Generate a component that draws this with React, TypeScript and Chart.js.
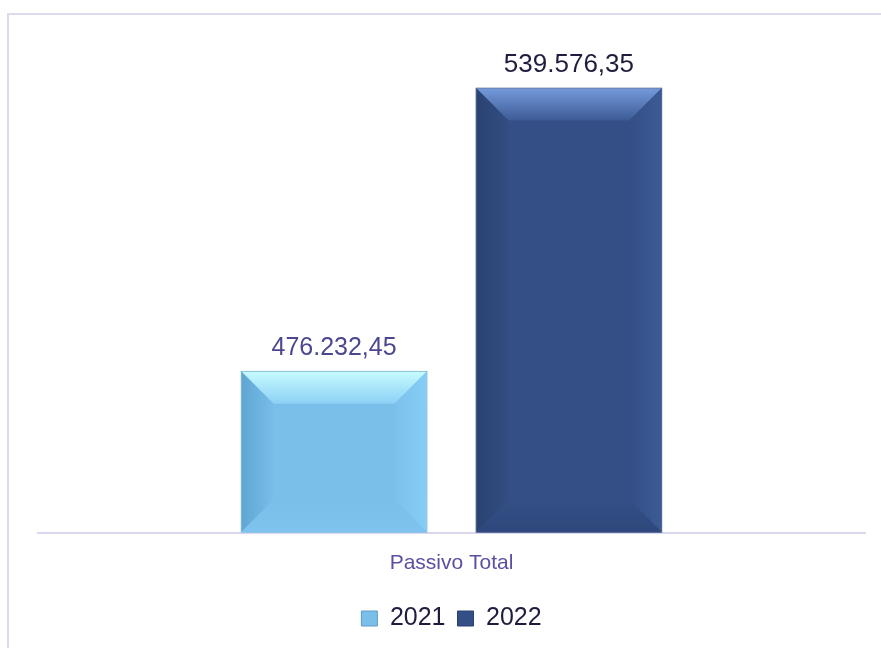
import React, { useEffect, useRef } from "react";
import { Chart, registerables } from "chart.js";

Chart.register(...registerables);

// ---- data ----
const categories = ["Passivo Total"];
const seriesNames = ["2021", "2022"];
const values2021 = [476232.45];
const values2022 = [539576.35];
const yMin = 440000;
const yMax = 550000;

// ---- styles ----
const baseColors = ["#7ABFEA", "#344F85"];
const borderColors = ["#5E9CC4", "#2A4070"];
const labelColors = ["#4B4790", "#1F1D3D"];
const labelSizes = [25, 26];
const bevels = [
  { top: ["#C6FBFF", "#8CD0F5"], left: ["#5FA6D3", "#79BEE9"], right: ["#84CDF5", "#7CC1EC"], bottom: ["#7DC3EE", "#7ABFEA"] },
  { top: ["#7499DA", "#3C5B96"], left: ["#2A4372", "#334D82"], right: ["#3B5A94", "#354F86"], bottom: ["#2E487C", "#344F85"] },
];

const FONT = "'Liberation Sans', Arial, sans-serif";

function fmt(v: number): string {
  const fixed = v.toFixed(2);
  const [intPart, dec] = fixed.split(".");
  const withDots = intPart.replace(/\B(?=(\d{3})+(?!\d))/g, ".");
  return withDots + "," + dec;
}

const bevelPlugin = {
  id: "bevel",
  afterDatasetsDraw(chart: any) {
    const ctx = chart.ctx;
    const area = chart.chartArea;
    chart.getSortedVisibleDatasetMetas().forEach((meta: any) => {
      const bv = bevels[meta.index];
      meta.data.forEach((el: any) => {
        const p = el.getProps(["x", "y", "base", "width"], true);
        const L = p.x - p.width / 2 + 1;
        const R = p.x + p.width / 2 - 1;
        const T = Math.max(Math.min(p.y, p.base), area.top) + 1;
        const B = Math.min(Math.max(p.y, p.base), area.bottom) - 1;
        const b = Math.min(32, (R - L) / 2, (B - T) / 2);
        ctx.save();
        // top
        let g = ctx.createLinearGradient(0, T, 0, T + b);
        g.addColorStop(0, bv.top[0]);
        g.addColorStop(1, bv.top[1]);
        ctx.fillStyle = g;
        ctx.beginPath();
        ctx.moveTo(L, T); ctx.lineTo(R, T); ctx.lineTo(R - b, T + b); ctx.lineTo(L + b, T + b); ctx.closePath();
        ctx.fill();
        // left
        g = ctx.createLinearGradient(L, 0, L + b, 0);
        g.addColorStop(0, bv.left[0]);
        g.addColorStop(1, bv.left[1]);
        ctx.fillStyle = g;
        ctx.beginPath();
        ctx.moveTo(L, T); ctx.lineTo(L + b, T + b); ctx.lineTo(L + b, B - b); ctx.lineTo(L, B); ctx.closePath();
        ctx.fill();
        // right
        g = ctx.createLinearGradient(R, 0, R - b, 0);
        g.addColorStop(0, bv.right[0]);
        g.addColorStop(1, bv.right[1]);
        ctx.fillStyle = g;
        ctx.beginPath();
        ctx.moveTo(R, T); ctx.lineTo(R, B); ctx.lineTo(R - b, B - b); ctx.lineTo(R - b, T + b); ctx.closePath();
        ctx.fill();
        // bottom
        g = ctx.createLinearGradient(0, B, 0, B - b);
        g.addColorStop(0, bv.bottom[0]);
        g.addColorStop(1, bv.bottom[1]);
        ctx.fillStyle = g;
        ctx.beginPath();
        ctx.moveTo(L, B); ctx.lineTo(R, B); ctx.lineTo(R - b, B - b); ctx.lineTo(L + b, B - b); ctx.closePath();
        ctx.fill();
        ctx.restore();
      });
    });
  },
};

const valueLabelPlugin = {
  id: "valueLabels",
  afterDatasetsDraw(chart: any) {
    const ctx = chart.ctx;
    chart.getSortedVisibleDatasetMetas().forEach((meta: any) => {
      const ds = chart.data.datasets[meta.index];
      meta.data.forEach((el: any, i: number) => {
        const p = el.getProps(["x", "y"], true);
        ctx.save();
        ctx.font = `${labelSizes[meta.index]}px ${FONT}`;
        ctx.fillStyle = labelColors[meta.index];
        ctx.textAlign = "center";
        ctx.textBaseline = "alphabetic";
        ctx.fillText(fmt(ds.data[i] as number), p.x, p.y - 16);
        ctx.restore();
      });
    });
  },
};

export default function App() {
  const ref = useRef<HTMLCanvasElement>(null);
  useEffect(() => {
    if (!ref.current) return;
    const chart = new Chart(ref.current, {
      type: "bar",
      data: {
        labels: categories,
        datasets: [
          {
            label: seriesNames[0],
            data: values2021,
            backgroundColor: baseColors[0],
            borderColor: borderColors[0],
            borderWidth: 1,
            borderSkipped: false,
          },
          {
            label: seriesNames[1],
            data: values2022,
            backgroundColor: baseColors[1],
            borderColor: borderColors[1],
            borderWidth: 1,
            borderSkipped: false,
          },
        ],
      },
      options: {
        responsive: false,
        animation: false,
        datasets: {
          bar: { categoryPercentage: 0.568, barPercentage: 0.796 },
        },
        layout: { padding: { left: 38, right: 16, top: 41, bottom: 7 } },
        plugins: {
          tooltip: { enabled: false },
          legend: {
            position: "bottom",
            labels: {
              font: { family: FONT, size: 25 },
              color: "#1F1D3D",
              boxWidth: 16,
              boxHeight: 15,
              padding: 12,
            },
          },
        },
        scales: {
          x: {
            grid: { display: false, drawTicks: false },
            border: { display: true, color: "#D9D7EC", width: 2 },
            ticks: {
              font: { family: FONT, size: 21 },
              color: "#5A4FA0",
              padding: 18,
            },
          },
          y: {
            display: false,
            min: yMin,
            max: yMax,
          },
        },
      },
      plugins: [bevelPlugin, valueLabelPlugin],
    });
    return () => chart.destroy();
  }, []);

  return (
    <div>
      <div
        style={{
          position: "fixed",
          left: 7,
          top: 13,
          width: 2000,
          height: 2000,
          borderTop: "2px solid #DCDAEE",
          borderLeft: "2px solid #DCDAEE",
        }}
      />
      <canvas
        ref={ref}
        width={881}
        height={648}
        style={{ position: "fixed", left: 0, top: 0, width: 881, height: 648 }}
      />
    </div>
  );
}
